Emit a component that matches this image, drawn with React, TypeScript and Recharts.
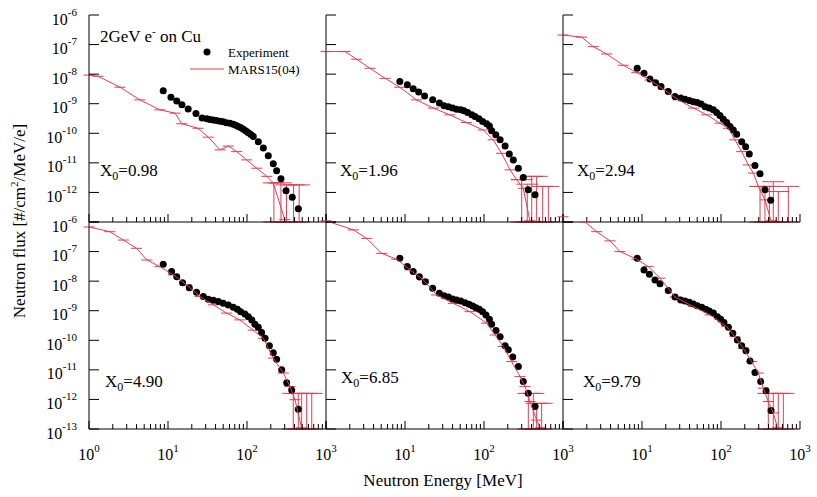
import React from 'react';
import { ComposedChart, Scatter, XAxis, YAxis, ErrorBar } from 'recharts';

// ---------- tick values ----------
const energyTicks = [1, 2, 3, 4, 5, 6, 7, 8, 9, 10, 20, 30, 40, 50, 60, 70, 80, 90, 100, 200, 300, 400, 500, 600, 700, 800, 900, 1000];
const fluxTicks = [1e-13, 1e-12, 1e-11, 1e-10, 1e-9, 1e-8, 1e-7, 1e-6];

// ---------- panel labels ----------
const thicknessLabels = ['0.98', '1.96', '2.94', '4.90', '6.85', '9.79'];

// ---------- X0 = 0.98 ----------
const exp1E = [8.7, 10.9, 12.9, 15, 18, 22.6, 27, 31, 34, 37.5, 41, 45.5, 50, 55, 61, 67, 72, 77.6, 84, 90, 97, 104, 112, 120, 139, 161, 186, 215, 237, 269, 312, 374, 447];
const exp1F = [2.75e-9, 1.66e-9, 1.23e-9, 9.3e-10, 6.6e-10, 4.7e-10, 3.3e-10, 3.1e-10, 2.95e-10, 2.82e-10, 2.69e-10, 2.57e-10, 2.45e-10, 2.29e-10, 2.19e-10, 2.04e-10, 1.86e-10, 1.7e-10, 1.55e-10, 1.38e-10, 1.2e-10, 1.05e-10, 9.1e-11, 7.8e-11, 5.2e-11, 3.2e-11, 1.74e-11, 9.3e-12, 5.4e-12, 2.9e-12, 1.15e-12, 6.9e-13, 2.8e-13];
const mars1E = [1.0, 1.3, 2.47, 4.4, 7.9, 12.3, 14.9, 24, 32.4, 45.6, 58, 74, 99, 133, 178, 215, 300];
const mars1F = [9.3e-9, 8.5e-9, 3.6e-9, 1.35e-9, 6.2e-10, 4.8e-10, 2.1e-10, 1.48e-10, 7.4e-11, 2.75e-11, 3.7e-11, 2.4e-11, 1.26e-11, 6.6e-12, 3.5e-12, 2.1e-12, 1.2e-13];
const tail1E = [219, 269, 316, 389, 457];
const tail1F = [2.1e-12, 2.1e-12, 1.8e-12, 1.8e-12, 1.8e-12];

// ---------- X0 = 1.96 ----------
const exp2E = [8.6, 10.7, 12.7, 14.9, 17.7, 22.4, 27.2, 31.2, 35.4, 40, 45, 50.7, 55.8, 62, 70, 77, 86.4, 96, 108, 117, 125, 141, 160, 185, 209, 235, 272, 314, 363, 443];
const exp2F = [5.6e-9, 4.4e-9, 3.2e-9, 2.5e-9, 1.82e-9, 1.35e-9, 1.05e-9, 8.5e-10, 7.9e-10, 7.1e-10, 6.5e-10, 6.2e-10, 5.8e-10, 5.0e-10, 4.2e-10, 3.7e-10, 3.1e-10, 2.5e-10, 2.1e-10, 1.78e-10, 1.23e-10, 8.9e-11, 6.0e-11, 3.7e-11, 2.0e-11, 1.26e-11, 6.6e-12, 3.2e-12, 1.23e-12, 8.3e-13];
const mars2E = [1.0, 1.74, 2.44, 3.6, 5.6, 8.6, 14, 22.8, 37, 60, 98, 131, 167, 214, 259, 314, 381];
const mars2F = [5.8e-8, 5.8e-8, 3.2e-8, 1.58e-8, 7.2e-9, 3.6e-9, 1.35e-9, 7.1e-10, 4.2e-10, 2.3e-10, 1.29e-10, 6.0e-11, 2.1e-11, 5.8e-12, 2.7e-12, 1.38e-12, 1.1e-13];
const tail2E = [300, 353, 402, 464, 553, 652];
const tail2F = [2.7e-12, 1.9e-12, 3.5e-12, 3.5e-12, 1.6e-12, 1.6e-12];

// ---------- X0 = 2.94 ----------
const exp3E = [8.7, 10.6, 12.6, 14.9, 17.4, 21.5, 26.2, 30.9, 35, 39.7, 44.7, 50, 56, 63, 71, 80, 88, 97, 107, 118, 130, 143, 158, 183, 205, 228, 269, 312, 360, 426];
const exp3F = [1.58e-8, 1.07e-8, 6.9e-9, 5.1e-9, 3.8e-9, 2.6e-9, 1.74e-9, 1.55e-9, 1.41e-9, 1.29e-9, 1.17e-9, 1.1e-9, 9.8e-10, 7.9e-10, 7.1e-10, 6.2e-10, 5.0e-10, 4.0e-10, 3.0e-10, 2.3e-10, 1.7e-10, 1.29e-10, 9.3e-11, 5.2e-11, 3.5e-11, 2.0e-11, 8.1e-12, 4.3e-12, 1.23e-12, 5.4e-13];
const mars3E = [1.0, 1.72, 2.42, 3.57, 5.8, 8.6, 12.6, 18.6, 28.8, 44.7, 66, 97, 124, 150, 183, 222, 257, 297, 360, 430];
const mars3F = [2.1e-7, 1.78e-7, 8.5e-8, 4.8e-8, 2.0e-8, 1.12e-8, 6.3e-9, 3.1e-9, 1.35e-9, 7.1e-10, 4.2e-10, 2.2e-10, 1.48e-10, 6.0e-11, 2.4e-11, 8.5e-12, 4.5e-12, 1.58e-12, 5.6e-13, 1.1e-13];
const tail3E = [312, 360, 409, 459, 531, 711];
const tail3F = [1.6e-12, 1.6e-12, 1.6e-12, 2.3e-12, 1.07e-12, 1.6e-12];

// ---------- X0 = 4.90 ----------
const exp4E = [8.7, 11.1, 12.9, 15.3, 18.6, 23, 28, 32.4, 37.5, 43.4, 50, 58, 67, 75.5, 83, 94, 104, 115, 126, 139, 153, 169, 192, 215, 237, 275, 318, 368, 446];
const exp4F = [3.7e-8, 2.1e-8, 1.41e-8, 8.9e-9, 6.0e-9, 4.2e-9, 3.0e-9, 2.45e-9, 2.24e-9, 2.04e-9, 1.78e-9, 1.55e-9, 1.32e-9, 1.12e-9, 9.3e-10, 7.8e-10, 6.3e-10, 4.9e-10, 3.5e-10, 2.75e-10, 1.82e-10, 1.17e-10, 6.5e-11, 3.8e-11, 2.3e-11, 1.0e-11, 3.7e-12, 2.1e-12, 4.7e-13];
const mars4E = [1.0, 1.84, 2.72, 4.0, 5.4, 7.9, 11.7, 17.3, 25.4, 37.5, 55, 81, 120, 161, 215, 288, 350, 405, 492];
const mars4F = [6.8e-7, 4.7e-7, 2.45e-7, 1.29e-7, 5.2e-8, 3.1e-8, 1.62e-8, 7.4e-9, 3.0e-9, 1.58e-9, 8.3e-10, 4.9e-10, 2.2e-10, 1.17e-10, 2.5e-11, 7.8e-12, 2.75e-12, 9.8e-13, 1.1e-13];
const tail4E = [385, 446, 492, 570, 660];
const tail4F = [1.6e-12, 1.6e-12, 1.6e-12, 1.6e-12, 1.6e-12];

// ---------- X0 = 6.85 ----------
const exp5E = [8.6, 10.7, 12.7, 15.2, 18.1, 22.4, 27.2, 31.2, 35.4, 40, 45, 50.7, 57.5, 64.6, 72, 79, 87, 96, 106, 117, 125, 142, 160, 185, 203, 231, 272, 314, 363, 443];
const exp5F = [5.9e-8, 3.1e-8, 2.1e-8, 1.41e-8, 9.5e-9, 5.8e-9, 3.9e-9, 3.2e-9, 2.9e-9, 2.5e-9, 2.3e-9, 2.14e-9, 1.86e-9, 1.66e-9, 1.45e-9, 1.26e-9, 1.12e-9, 9.3e-10, 7.2e-10, 5.1e-10, 3.5e-10, 2.14e-10, 1.32e-10, 6.5e-11, 4.8e-11, 2.7e-11, 1.29e-11, 4.0e-12, 1.62e-12, 5.8e-13];
const mars5E = [1.0, 2.22, 3.27, 5.07, 7.85, 11.6, 17.1, 25.2, 40.9, 66.5, 108, 138, 175, 224, 286, 330, 382, 464, 520];
const mars5F = [1.1e-6, 5.4e-7, 2.8e-7, 8.7e-8, 5.5e-8, 2.4e-8, 1.1e-8, 3.4e-9, 1.78e-9, 9.3e-10, 3.8e-10, 1.51e-10, 6.2e-11, 1.9e-11, 5.9e-12, 2.75e-12, 8.5e-13, 2.0e-13, 1.1e-13];
const tail5E = [364, 421, 464, 537];
const tail5F = [1.6e-12, 1.6e-12, 7.4e-13, 7.4e-13];

// ---------- X0 = 9.79 ----------
const exp6E = [8.7, 10.6, 12.4, 14.6, 16.9, 21.5, 26.2, 30.9, 35, 39.7, 44.7, 50, 57, 64, 71, 80, 90, 99, 109, 124, 141, 161, 183, 207, 233, 269, 318, 372, 430];
const exp6F = [5.9e-8, 2.4e-8, 1.7e-8, 1.1e-8, 8.1e-9, 4.8e-9, 2.9e-9, 2.3e-9, 2.14e-9, 1.95e-9, 1.7e-9, 1.48e-9, 1.32e-9, 1.12e-9, 9.8e-10, 8.3e-10, 6.3e-10, 5.1e-10, 4.0e-10, 2.75e-10, 1.74e-10, 1.02e-10, 6.5e-11, 4.4e-11, 2.0e-11, 8.1e-12, 4.0e-12, 1.95e-12, 4.2e-13];
const mars6E = [1.0, 1.9, 2.67, 3.94, 5.27, 8.6, 12, 16.9, 26.2, 44.7, 72.6, 118, 150, 191, 244, 297, 343, 397, 459, 520];
const mars6F = [1.5e-6, 1.0e-6, 4.7e-7, 2.3e-7, 1.0e-7, 5.5e-8, 3.1e-8, 1.26e-8, 2.9e-9, 1.38e-9, 7.2e-10, 2.9e-10, 1.32e-10, 5.4e-11, 1.9e-11, 7.8e-12, 2.4e-12, 8.5e-13, 3.5e-13, 1.1e-13];
const tail6E = [397, 459, 531, 615];
const tail6F = [1.6e-12, 1.6e-12, 1.6e-12, 1.6e-12];

// ---------- layout / style ----------
const RED = '#e23c52';
const FONT = '"Liberation Serif", "Times New Roman", serif';
const PW = 237;
const PH = 207;
const colX = [89, 326, 563];
const rowY = [15, 222];
const ML = 85;
const MR = 15;
const MT = 15;
const MB = 45;
const BIN_HALF = Math.pow(10, 0.07); // half bin width factor for MARS bars
const FLOOR = 1e-13;

type PanelDef = {
  col: number; row: number; label: string;
  expE: number[]; expF: number[]; marsE: number[]; marsF: number[]; tailE: number[]; tailF: number[];
  xLabels: number[]; yLabels: number[]; labelX: number; labelY: number;
};

const panels: PanelDef[] = [
  { col: 0, row: 0, label: thicknessLabels[0], expE: exp1E, expF: exp1F, marsE: mars1E, marsF: mars1F, tailE: tail1E, tailF: tail1F, xLabels: [], yLabels: [-6, -7, -8, -9, -10, -11, -12], labelX: 100, labelY: 176 },
  { col: 1, row: 0, label: thicknessLabels[1], expE: exp2E, expF: exp2F, marsE: mars2E, marsF: mars2F, tailE: tail2E, tailF: tail2F, xLabels: [], yLabels: [], labelX: 340, labelY: 176 },
  { col: 2, row: 0, label: thicknessLabels[2], expE: exp3E, expF: exp3F, marsE: mars3E, marsF: mars3F, tailE: tail3E, tailF: tail3F, xLabels: [], yLabels: [], labelX: 577, labelY: 176 },
  { col: 0, row: 1, label: thicknessLabels[3], expE: exp4E, expF: exp4F, marsE: mars4E, marsF: mars4F, tailE: tail4E, tailF: tail4F, xLabels: [0, 1, 2, 3], yLabels: [-6, -7, -8, -9, -10, -11, -12, -13], labelX: 105, labelY: 387 },
  { col: 1, row: 1, label: thicknessLabels[4], expE: exp5E, expF: exp5F, marsE: mars5E, marsF: mars5F, tailE: tail5E, tailF: tail5F, xLabels: [1, 2, 3], yLabels: [], labelX: 341, labelY: 383 },
  { col: 2, row: 1, label: thicknessLabels[5], expE: exp6E, expF: exp6F, marsE: mars6E, marsF: mars6F, tailE: tail6E, tailF: tail6F, xLabels: [1, 2, 3], yLabels: [], labelX: 583, labelY: 387 },
];

const isMajor = (v: number) => Math.abs(Math.log10(v) - Math.round(Math.log10(v))) < 1e-6;

function makeXTick(side: 'bottom' | 'top', labels: number[]) {
  return (props: any) => {
    const { x, y, payload } = props;
    const v = payload.value;
    const major = isMajor(v);
    const len = major ? 8 : 5;
    const exp = Math.round(Math.log10(v));
    const dir = side === 'bottom' ? -1 : 1;
    return (
      <g>
        <line x1={x} x2={x} y1={y} y2={y + dir * len} stroke="#000" strokeWidth={1} />
        {side === 'bottom' && major && labels.includes(exp) ? (
          <text x={x} y={y + 31} textAnchor="middle" fontSize={16} fontFamily={FONT} fill="#000">
            10<tspan dy={-8} fontSize={11}>{exp}</tspan>
          </text>
        ) : null}
      </g>
    );
  };
}

function makeYTick(side: 'left' | 'right', labels: number[]) {
  return (props: any) => {
    const { x, y, payload } = props;
    const v = payload.value;
    const exp = Math.round(Math.log10(v));
    const dir = side === 'left' ? 1 : -1;
    return (
      <g>
        <line x1={x} x2={x + dir * 10} y1={y} y2={y} stroke="#000" strokeWidth={1} />
        {side === 'left' && labels.includes(exp) ? (
          <text x={x - 12} y={y + 9.5} textAnchor="end" fontSize={16} fontFamily={FONT} fill="#000">
            10<tspan dy={-9} fontSize={11}>{exp}</tspan>
          </text>
        ) : null}
      </g>
    );
  };
}

const ExpDot = (props: any) => <circle cx={props.cx} cy={props.cy} r={3.5} fill="#000" />;
const NoDot = () => <g />;

function PanelChart({ p }: { p: PanelDef }) {
  const expData = p.expE.map((e, i) => ({ e, f: p.expF[i] }));
  const marsData = p.marsE.map((e, i) => ({ e, f: p.marsF[i], ex: [e - e / BIN_HALF, e * BIN_HALF - e] }));
  const tailData = p.tailE.map((e, i) => ({ e, f: p.tailF[i], ey: [p.tailF[i] - FLOOR, 0] }));
  const axisCommonX = {
    dataKey: 'e', type: 'number' as const, scale: 'log' as const, domain: [1, 1000],
    ticks: energyTicks, interval: 0, allowDataOverflow: true, tickSize: 0, tickMargin: 0,
    tickLine: false, axisLine: { stroke: '#000', strokeWidth: 1 },
  };
  const axisCommonY = {
    dataKey: 'f', type: 'number' as const, scale: 'log' as const, domain: [1e-13, 1e-6],
    ticks: fluxTicks, interval: 0, allowDataOverflow: true, tickSize: 0, tickMargin: 0,
    tickLine: false, axisLine: { stroke: '#000', strokeWidth: 1 },
  };
  return (
    <div style={{ position: 'absolute', left: colX[p.col] - ML, top: rowY[p.row] - MT }}>
      <ComposedChart width={PW + ML + MR} height={PH + MT + MB} margin={{ top: MT, right: MR, bottom: 0, left: 0 }}>
        <XAxis xAxisId="b" orientation="bottom" height={MB} {...axisCommonX} tick={makeXTick('bottom', p.xLabels)} />
        <XAxis xAxisId="t" orientation="top" height={0} {...axisCommonX} tick={makeXTick('top', [])} />
        <YAxis yAxisId="l" orientation="left" width={ML} {...axisCommonY} tick={makeYTick('left', p.yLabels)} />
        <YAxis yAxisId="r" orientation="right" width={0} {...axisCommonY} tick={makeYTick('right', [])} />
        <Scatter name="Experiment" xAxisId="b" yAxisId="l" data={expData} shape={ExpDot} isAnimationActive={false} />
        <Scatter name="MARS15(04)" xAxisId="b" yAxisId="l" data={marsData} shape={NoDot} fill={RED}
          line={{ stroke: RED, strokeWidth: 1 }} lineType="joint" isAnimationActive={false}>
          <ErrorBar dataKey="ex" direction="x" width={0} stroke={RED} strokeWidth={1} isAnimationActive={false} />
        </Scatter>
        <Scatter name="MARS tail" xAxisId="b" yAxisId="l" data={tailData} shape={NoDot} fill={RED} isAnimationActive={false}>
          <ErrorBar dataKey="ey" direction="y" width={11} stroke={RED} strokeWidth={1} isAnimationActive={false} />
        </Scatter>
      </ComposedChart>
    </div>
  );
}

export default function App() {
  return (
    <div style={{ position: 'absolute', left: 0, top: 0, width: 817, height: 497, background: '#fff', fontFamily: FONT, overflow: 'hidden' }}>
      {panels.map((p, i) => <PanelChart key={i} p={p} />)}
      <svg width={817} height={497} style={{ position: 'absolute', left: 0, top: 0, pointerEvents: 'none' }}>
        <text x={100} y={42} fontSize={17} fontFamily={FONT} fill="#000">
          2GeV e<tspan dy={-7} fontSize={11}>-</tspan><tspan dy={7}> on Cu</tspan>
        </text>
        <circle cx={207} cy={52} r={3.5} fill="#000" />
        <text x={228} y={57} fontSize={13} fontFamily={FONT} fill="#000">Experiment</text>
        <line x1={190} x2={224} y1={69} y2={69} stroke={RED} strokeWidth={1} />
        <text x={228} y={74} fontSize={13} fontFamily={FONT} fill="#000">MARS15(04)</text>
        {panels.map((p, i) => (
          <text key={i} x={p.labelX} y={p.labelY} fontSize={17} fontFamily={FONT} fill="#000">
            X<tspan dy={4} fontSize={12}>0</tspan><tspan dy={-4}>={p.label}</tspan>
          </text>
        ))}
        <text x={443} y={486} textAnchor="middle" fontSize={17} fontFamily={FONT} fill="#000">Neutron Energy [MeV]</text>
        <text transform="translate(25,221) rotate(-90)" textAnchor="middle" fontSize={17} fontFamily={FONT} fill="#000">
          Neutron flux [#/cm<tspan dy={-7} fontSize={11}>2</tspan><tspan dy={7}>/MeV/e]</tspan>
        </text>
      </svg>
    </div>
  );
}
